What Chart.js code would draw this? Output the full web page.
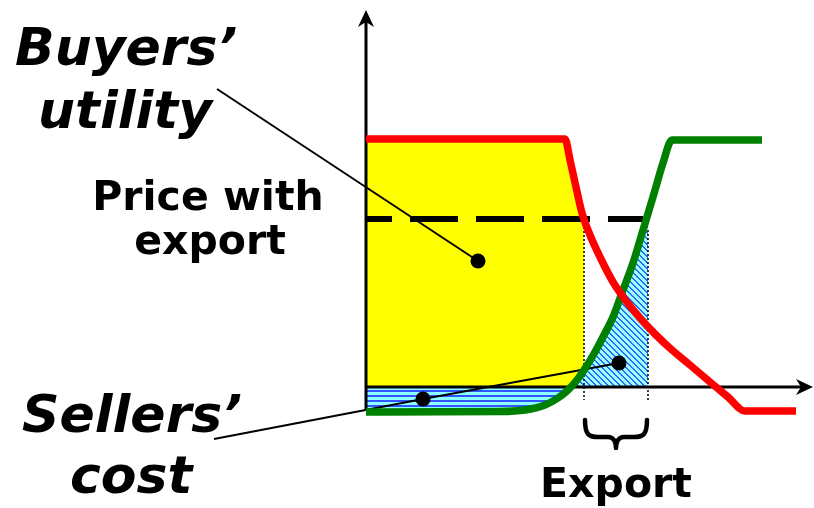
<!DOCTYPE html>
<html><head><meta charset="utf-8">
<script src="https://cdn.jsdelivr.net/npm/chart.js@4"></script>
<style>html,body{margin:0;padding:0;background:#fff}#wrap{width:814px;height:508px;position:relative}</style>
</head><body><div id="wrap"><canvas id="c" width="814" height="508"></canvas></div>
<script>
// ---- data (quantity q along x, price p along y; origin where the axes cross) ----
const redQ   = [0, 19.9, 20.4, 21.0, 21.6, 22.4, 23.4, 24.7, 26.1, 27.4, 28.9, 30.6, 32.4, 34.4, 36.2, 37.9, 43.0];
const redP   = [24.8, 24.8, 22.7, 20.0, 17.4, 15.2, 13.0, 10.5, 8.5, 6.9, 5.3, 3.7, 2.2, 0.5, -1.0, -2.4, -2.4];
const greenQ = [0, 13.4, 15.9, 17.9, 19.2, 20.2, 21.1, 22.0, 22.9, 23.8, 24.7, 25.7, 26.7, 27.7, 28.7, 29.7, 30.6, 39.6];
const greenP = [-2.5, -2.45, -2.3, -1.8, -1.1, -0.3, 0.7, 2.0, 3.5, 5.2, 7.0, 9.7, 12.4, 15.7, 19.0, 22.4, 24.7, 24.7];
const exportPrice = 16.8;      // dashed "price with export" level
const exportFromQ = 21.8;      // demand at export price
const exportToQ   = 28.2;      // supply at export price
const supplyZeroQ = 20.5;      // where supply curve crosses the q axis
const supplyAtExportTo = 17.3;
const dottedBottomP = -1.3;
const axisTopP = 37.7, axisBottomP = -2.3, axisRightQ = 44.7;
const buyersLeaderQ  = [-14.9, 11.2];
const buyersLeaderP  = [29.8, 12.6];
const sellersLeaderQ = [-15.2, 5.7, 25.3];
const sellersLeaderP = [-5.2, -1.2, 2.4];
const labels = {buyers1:'Buyers\u2019', buyers2:'utility', price1:'Price with', price2:'export',
                sellers1:'Sellers\u2019', sellers2:'cost', exp:'Export'};

// ---- derived point lists ----
const pts = (qs, ps) => qs.map((q, i) => ({x: q, y: ps[i]}));
const red = pts(redQ, redP);
const green = pts(greenQ, greenP);
const yellowPts = red.filter(p => p.x < exportFromQ).concat([{x: exportFromQ, y: exportPrice}]);
const stripePts = green.filter(p => p.x < supplyZeroQ).concat([{x: supplyZeroQ, y: 0}]);
const hatchPts = [{x: supplyZeroQ, y: 0}].concat(green.filter(p => p.x > supplyZeroQ && p.x < exportToQ))
                 .concat([{x: exportToQ, y: supplyAtExportTo}]);

// ---- patterns ----
function makePattern(w, h, fn) {
  const c = document.createElement('canvas'); c.width = w; c.height = h;
  const g = c.getContext('2d');
  for (let i = 0; i < w; i++) for (let j = 0; j < h; j++) {
    g.fillStyle = fn(i, j); g.fillRect(i, j, 1, 1);
  }
  return document.getElementById('c').getContext('2d').createPattern(c, 'repeat');
}
const stripePattern = makePattern(8, 5, (i, j) => j < 2 ? '#3355FF' : '#8CFFFF');
const hatchPattern  = makePattern(6, 6, (i, j) => ((i - j + 12) % 6) < 2 ? '#3366FF' : '#99FFFF');

const deco = {
  id: 'deco',
  afterDatasetsDraw(chart) {
    const {ctx, scales: {x, y}} = chart;
    const X = v => x.getPixelForValue(v), Y = v => y.getPixelForValue(v);
    ctx.save();
    ctx.fillStyle = '#000';
    // arrowheads
    const tx = X(0), ty = Y(axisTopP);
    ctx.beginPath(); ctx.moveTo(tx, ty); ctx.lineTo(tx - 8, ty + 17); ctx.lineTo(tx, ty + 12); ctx.lineTo(tx + 8, ty + 17); ctx.closePath(); ctx.fill();
    const rx = X(axisRightQ), ry = Y(0);
    ctx.beginPath(); ctx.moveTo(rx, ry); ctx.lineTo(rx - 17, ry - 8); ctx.lineTo(rx - 12, ry); ctx.lineTo(rx - 17, ry + 8); ctx.closePath(); ctx.fill();
    // brace
    const bl = X(exportFromQ) + 1, br = X(exportToQ) - 1, bm = (bl + br) / 2, b0 = Y(0);
    const top = b0 + 33, mid = b0 + 50, tip = b0 + 61;
    ctx.strokeStyle = '#000'; ctx.lineWidth = 4.5; ctx.lineCap = 'round';
    ctx.beginPath();
    ctx.moveTo(bl, top);
    ctx.bezierCurveTo(bl, mid - 2, bl + 4, mid, bl + 13, mid);
    ctx.lineTo(bm - 8, mid);
    ctx.bezierCurveTo(bm - 3, mid, bm, mid + 4, bm, tip);
    ctx.moveTo(br, top);
    ctx.bezierCurveTo(br, mid - 2, br - 4, mid, br - 13, mid);
    ctx.lineTo(bm + 8, mid);
    ctx.bezierCurveTo(bm + 3, mid, bm, mid + 4, bm, tip);
    ctx.stroke();
    // text
    ctx.textBaseline = 'alphabetic';
    ctx.font = 'italic bold 52px "DejaVu Sans"';
    ctx.textAlign = 'left';
    ctx.fillText(labels.buyers1, 15, 65);
    ctx.fillText(labels.buyers2, 38, 128);
    ctx.fillText(labels.sellers1, 22, 432);
    ctx.fillText(labels.sellers2, 70, 493);
    ctx.font = 'bold 41px "DejaVu Sans"';
    ctx.textAlign = 'center';
    ctx.fillText(labels.price1, 208, 210);
    ctx.fillText(labels.price2, 210, 254);
    ctx.fillText(labels.exp, bm, 497);
    ctx.restore();
  }
};

const line = (data, o) => Object.assign({data, pointRadius: 0, borderWidth: 0, fill: false, clip: false}, o);

new Chart(document.getElementById('c'), {
  type: 'line',
  data: {datasets: [
    line(red,   {borderColor: '#FF0000', borderWidth: 7.5, cubicInterpolationMode: 'monotone', order: 1}),
    line(green, {borderColor: '#008000', borderWidth: 7.5, cubicInterpolationMode: 'monotone', order: 2}),
    line(pts(sellersLeaderQ, sellersLeaderP), {borderColor: '#000', borderWidth: 2, pointRadius: [0, 7.5, 7.5],
         pointBackgroundColor: '#000', pointBorderWidth: 0, order: 3}),
    line(pts(buyersLeaderQ, buyersLeaderP), {borderColor: '#000', borderWidth: 2, pointRadius: [0, 7.5],
         pointBackgroundColor: '#000', pointBorderWidth: 0, order: 4}),
    line([{x: 0, y: exportPrice}, {x: exportToQ - 0.5, y: exportPrice}], {borderColor: '#000', borderWidth: 6,
         borderDash: [48, 18], borderDashOffset: 22, borderCapStyle: 'butt', order: 5}),
    line([{x: exportFromQ, y: exportPrice}, {x: exportFromQ, y: dottedBottomP}], {borderColor: '#000', borderWidth: 1.5, borderDash: [2, 2], order: 6}),
    line([{x: exportToQ, y: supplyAtExportTo - 1.6}, {x: exportToQ, y: dottedBottomP}], {borderColor: '#000', borderWidth: 1.5, borderDash: [2, 2], order: 6}),
    line([{x: 0, y: 0}, {x: axisRightQ - 1.2, y: 0}], {borderColor: '#000', borderWidth: 3, order: 7}),
    line([{x: 0, y: axisBottomP}, {x: 0, y: axisTopP - 1.2}], {borderColor: '#000', borderWidth: 3, order: 7}),
    line(hatchPts,  {backgroundColor: hatchPattern,  fill: 'origin', cubicInterpolationMode: 'monotone', order: 8}),
    line(stripePts, {backgroundColor: stripePattern, fill: 'origin', cubicInterpolationMode: 'monotone', order: 9}),
    line(yellowPts, {backgroundColor: '#FFFF00', fill: 'origin', cubicInterpolationMode: 'monotone', order: 10})
  ]},
  options: {
    responsive: false, animation: false, events: [],
    layout: {padding: 0, autoPadding: false},
    plugins: {legend: {display: false}, tooltip: {enabled: false}, title: {display: false}},
    scales: {
      x: {type: 'linear', display: false, min: -36.6, max: 44.8},
      y: {type: 'linear', display: false, min: -12.1, max: 38.7}
    }
  },
  plugins: [deco]
});
</script></body></html>
